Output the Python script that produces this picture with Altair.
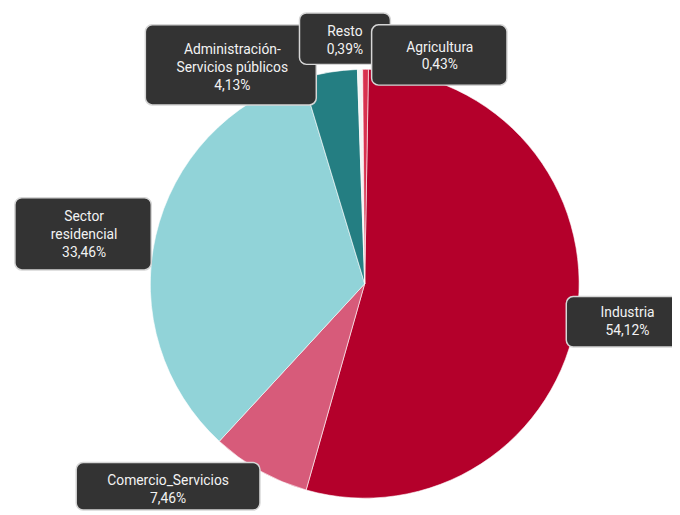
import math
import altair as alt
import pandas as pd

# ---- data ----
sectors = ["Industria", "Comercio_Servicios", "Sector residencial",
           "Administración-Servicios públicos", "Resto", "Agricultura"]
shares = [54.12, 7.46, 33.46, 4.13, 0.39, 0.43]
label_names = [["Industria"], ["Comercio_Servicios"], ["Sector", "residencial"],
               ["Administración-", "Servicios públicos"], ["Resto"], ["Agricultura"]]
colors = ["#b4002b", "#d75b7a", "#91d3d8", "#247e82", "#f4f4f4", "#d8314f"]

# ---- layout (page pixels) ----
W, H = 664, 507
CX, CY, R = 369, 284, 217
OFFSET = math.radians(1.0)
# label boxes: x0, x1, y0, y1, text centre x, first-line centre y
boxes = [
    (573, 700, 297, 348, 635, 314),
    (77, 263, 465, 513, 170, 484),
    (15, 153, 197, 270, 85, 217),
    (147, 320, 22, 103, 235, 48),
    (303, 395, 10, 62, 349, 29),
    (376, 513, 22, 83, 445, 45),
]

pct = [f"{v:.2f}".replace(".", ",") + "%" for v in shares]
df = pd.DataFrame({
    "sector": sectors,
    "share": shares,
    "order": list(range(len(sectors))),
})
lab = pd.DataFrame({
    "sector": sectors,
    "text": ["\n".join(n + [p]) for n, p in zip(label_names, pct)],
    "x0": [b[0] for b in boxes], "x1": [b[1] for b in boxes],
    "y0": [b[2] for b in boxes], "y1": [b[3] for b in boxes],
    "tx": [b[4] for b in boxes], "ty": [b[5] for b in boxes],
})

color_scale = alt.Scale(domain=sectors, range=colors)

pie = alt.Chart(df).mark_arc(radius=R, stroke="#ffffff", strokeWidth=0.6).encode(
    theta=alt.Theta("share:Q", stack=True,
                    scale=alt.Scale(range=[OFFSET, 2 * math.pi + OFFSET])),
    order=alt.Order("order:Q"),
    color=alt.Color("sector:N", scale=color_scale, legend=None),
    x=alt.value(CX - 8),
    y=alt.value(CY - 8),
)

xs = alt.Scale(domain=[8, 8 + W], range=[0, W])
ys = alt.Scale(domain=[8, 8 + H], range=[0, H])

rects = alt.Chart(lab).mark_rect(
    cornerRadius=7, fill="#333333", stroke="#d6d6d6", strokeWidth=1.5
).encode(
    x=alt.X("x0:Q", scale=xs, axis=None),
    x2="x1:Q",
    y=alt.Y("y0:Q", scale=ys, axis=None),
    y2="y1:Q",
)

texts = alt.Chart(lab).mark_text(
    font="Roboto", fontSize=14, color="#f2f2f2", lineBreak="\n",
    lineHeight=18, align="center", baseline="middle"
).encode(
    x=alt.X("tx:Q", scale=xs, axis=None),
    y=alt.Y("ty:Q", scale=ys, axis=None),
    text="text:N",
)

chart = alt.layer(pie, rects, texts).properties(
    width=W, height=H,
    padding={"left": 0, "top": 0, "right": 8, "bottom": 0},
    autosize="none",
    background="#ffffff",
).configure_view(strokeWidth=0)

chart.save("out.html", embed_options={"renderer": "svg", "actions": False})
